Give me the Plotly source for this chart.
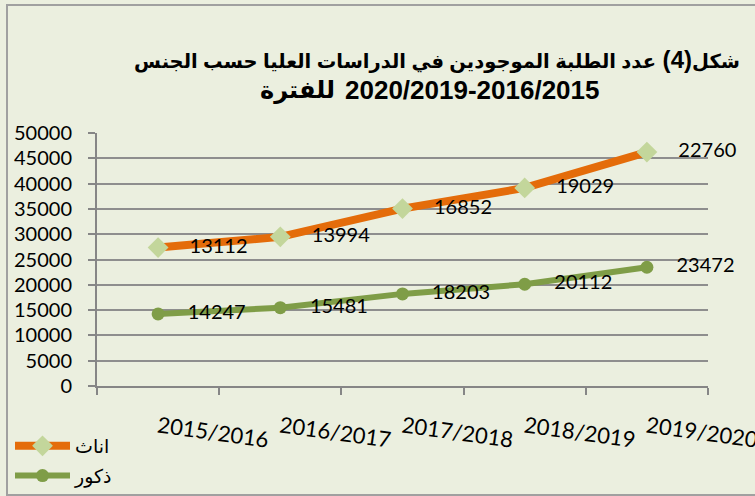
import plotly.graph_objects as go

# ---- data ----
years = ["2015/2016", "2016/2017", "2017/2018", "2018/2019", "2019/2020"]
males = [14247, 15481, 18203, 20112, 23472]
females = [13112, 13994, 16852, 19029, 22760]
name_males = "ذكور"
name_females = "اناث"
title_word = "شكل"
title_num = "(4)"
title_rest = "عدد الطلبة الموجودين في الدراسات العليا حسب الجنس"
title_period_word = "للفترة"
title_period = "2020/2019-2016/2015"

W, H = 755, 496
ML, MR, MT, MB = 97, 47, 133, 110
BG = "#EBEFDF"
ORANGE = "#E46C0A"
GREEN = "#7F9D47"
LIGHTGREEN = "#C3D69B"
GRID = "#8E8E8E"
NUMFONT = "Lato, 'Open Sans', sans-serif"
ARFONT = "'Liberation Sans', Arial, 'DejaVu Sans', sans-serif"

ar = lambda s, px: f'<span style="font-size:{px}px">{s}</span>'
title_text = ar(title_word, 19.5) + title_num + " " + ar(title_rest, 19.5)

fig = go.Figure()
fig.add_trace(go.Scatter(
    x=years, y=males, name=name_males, stackgroup="s", fill="none",
    mode="lines+markers+text", text=males,
    texttemplate="\u00a0\u00a0\u00a0\u00a0%{text}", textposition="middle right",
    textfont=dict(family=NUMFONT, size=20, color="#000000"),
    line=dict(color=GREEN, width=6),
    marker=dict(symbol="circle", size=13, color=GREEN),
    legendrank=2, legendgroup="m", hoverinfo="skip", cliponaxis=False,
))
fig.add_trace(go.Scatter(
    x=years, y=females, name=name_females, stackgroup="s", fill="none",
    mode="lines+markers+text", text=females,
    texttemplate="\u00a0\u00a0\u00a0\u00a0%{text}", textposition="middle right",
    textfont=dict(family=NUMFONT, size=20, color="#000000"),
    line=dict(color=ORANGE, width=8),
    marker=dict(symbol="diamond", size=16, color=LIGHTGREEN),
    legendrank=1, legendgroup="f", hoverinfo="skip", cliponaxis=False,
))

pw, ph = W - ML - MR, H - MT - MB
px2x = lambda p: (p - ML) / pw          # pixel -> paper x
px2y = lambda p: 1 - (p - MT) / ph      # pixel -> paper y

# chart border (outer frame)
fig.add_shape(type="rect", xref="paper", yref="paper",
              x0=px2x(7), x1=px2x(W + 5), y0=px2y(495), y1=px2y(5),
              line=dict(color="#A0A0A0", width=2), fillcolor="rgba(0,0,0,0)",
              layer="below")

# second title line (two separate runs so the bidi order stays as in the original)
split = 340
fig.add_annotation(text=title_period_word, xref="paper", yref="paper",
                   x=px2x(split - 3), y=px2y(90), xanchor="right", yanchor="middle",
                   showarrow=False,
                   font=dict(family=ARFONT, size=24, color="#000000", weight="bold"))
fig.add_annotation(text=title_period, xref="paper", yref="paper",
                   x=px2x(split + 3), y=px2y(90), xanchor="left", yanchor="middle",
                   showarrow=False,
                   font=dict(family=ARFONT, size=26, color="#000000", weight="bold"))

fig.update_layout(
    width=W, height=H, autosize=False,
    margin=dict(l=ML, r=MR, t=MT, b=MB, pad=0, autoexpand=False),
    paper_bgcolor=BG, plot_bgcolor=BG,
    title=dict(text=title_text,
               font=dict(family=ARFONT, size=24, color="#000000", weight="bold"),
               x=437 / W, xanchor="center", xref="container",
               y=1 - 60 / H, yanchor="middle", yref="container"),
    showlegend=True,
    legend=dict(xref="container", yref="container", x=10 / W, y=1 - 427 / H,
                xanchor="left", yanchor="top", bgcolor="rgba(0,0,0,0)",
                font=dict(family=ARFONT, size=19, color="#000000"),
                traceorder="grouped", tracegroupgap=2, itemwidth=55),
    xaxis=dict(type="category", range=[-0.5, 4.5], showgrid=False,
               showline=True, linecolor="#868686", linewidth=2,
               ticks="outside", tickson="boundaries", ticklen=7,
               tickcolor="#868686", tickwidth=2, tickangle=8,
               ticklabelstandoff=18,
               tickfont=dict(family=NUMFONT, size=22, color="#000000"),
               fixedrange=True),
    yaxis=dict(range=[0, 50000], dtick=5000, tick0=0,
               showgrid=True, gridcolor=GRID, gridwidth=1.5,
               zeroline=False, showline=True, linecolor="#868686", linewidth=2,
               ticks="outside", ticklen=7, tickcolor="#868686", tickwidth=2,
               ticklabelstandoff=12, tickformat="d",
               tickfont=dict(family=NUMFONT, size=20, color="#000000"),
               fixedrange=True),
)

fig.write_html(
    "out.html",
    config={"displayModeBar": False, "staticPlot": False},
    post_script="document.body.style.margin='0';document.body.style.overflow='hidden';",
)
